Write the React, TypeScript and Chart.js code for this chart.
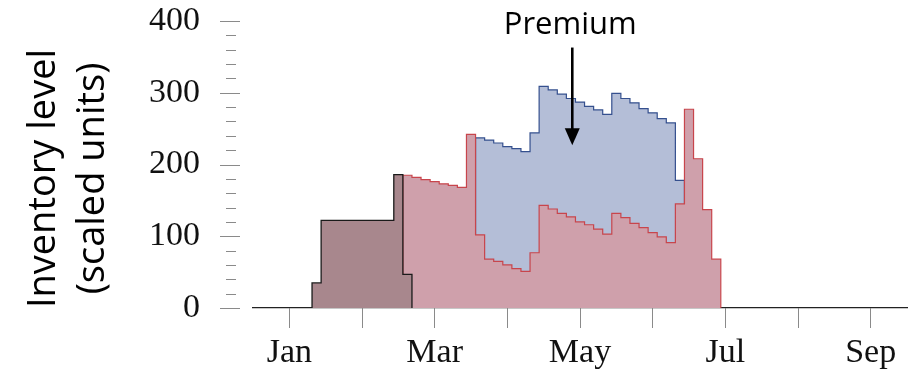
import { useEffect, useRef } from 'react';
import { Chart, registerables } from 'chart.js';

Chart.register(...registerables);

// Time runs in half-week periods; each month spans 8 periods.
const monthLabels = ['Jan', 'Feb', 'Mar', 'Apr', 'May', 'Jun', 'Jul', 'Aug', 'Sep'];
const labelledMonths = ['Jan', 'Mar', 'May', 'Jul', 'Sep'];
const periodsPerMonth = 8;
const janPeriod = -2.5;
const periodMin = -6.5;
const periodMax = 65.5;

const yMajorTicks = [0, 100, 200, 300, 400];
const yMinorStep = 20;

// Inventory levels per period (scaled units)
const earlyStart = 0;
const earlyLevel = [35, 122, 122, 122, 122, 122, 122, 122, 122, 186, 47];

const standardStart = 10;
const standardLevel = [
  185, 182, 179, 176, 173, 171, 168, 242, 102, 68, 65, 60, 55, 51, 77,
  143, 138, 132, 127, 120, 116, 110, 103, 132, 126, 118, 112, 105, 99, 91,
  145, 277, 208, 137, 68,
];

const premiumStart = 18;
const premiumLevel = [
  237, 234, 230, 225, 222, 218, 244, 309, 304, 298, 292, 287, 281, 276, 270,
  299, 292, 286, 278, 272, 264, 258, 178,
];

// Callout pointing into the premium band
const calloutText = 'Premium';
const calloutPeriod = 28.65;
const calloutFrom = 363;
const calloutTo = 227;

const yTitleLines = ['Inventory level', '(scaled units)'];

function stepPoints(start: number, levels: number[]) {
  const pts = [{ x: start, y: 0 }];
  levels.forEach((v, i) => pts.push({ x: start + i, y: v }));
  pts.push({ x: start + levels.length, y: 0 });
  return pts;
}

const decorations = {
  id: 'decorations',
  afterDraw(chart: any) {
    const { ctx, chartArea, scales } = chart;
    const x = scales.x;
    const y = scales.y;
    ctx.save();

    // y-axis tick marks: long at labelled values, short in between
    ctx.strokeStyle = '#8a8a8a';
    ctx.lineWidth = 1;
    const top = yMajorTicks[yMajorTicks.length - 1];
    for (let v = 0; v <= top; v += yMinorStep) {
      const py = Math.round(y.getPixelForValue(v)) + 0.5;
      const major = yMajorTicks.includes(v);
      const x1 = chartArea.left - (major ? 33 : 27);
      const x2 = chartArea.left - (major ? 13 : 17);
      ctx.beginPath();
      ctx.moveTo(x1, py);
      ctx.lineTo(x2, py);
      ctx.stroke();
    }

    // y-axis title, two rotated lines
    ctx.fillStyle = '#000';
    ctx.font = '38px "Open Sans"';
    ctx.textAlign = 'center';
    ctx.textBaseline = 'alphabetic';
    const cy = (chartArea.top + chartArea.bottom) / 2 + 14;
    const baselines = [55, 104];
    yTitleLines.forEach((line, i) => {
      ctx.save();
      ctx.translate(baselines[i], cy);
      ctx.rotate(-Math.PI / 2);
      ctx.fillText(line, 0, 0);
      ctx.restore();
    });

    // callout arrow and label
    const ax = x.getPixelForValue(calloutPeriod);
    const ay1 = y.getPixelForValue(calloutFrom);
    const ay2 = y.getPixelForValue(calloutTo);
    const head = 17;
    ctx.strokeStyle = '#000';
    ctx.lineWidth = 2.6;
    ctx.beginPath();
    ctx.moveTo(ax, ay1);
    ctx.lineTo(ax, ay2 - head + 2);
    ctx.stroke();
    ctx.fillStyle = '#000';
    ctx.beginPath();
    ctx.moveTo(ax, ay2);
    ctx.lineTo(ax - 7.5, ay2 - head);
    ctx.lineTo(ax + 7.5, ay2 - head);
    ctx.closePath();
    ctx.fill();

    ctx.font = '31px "Open Sans"';
    ctx.textAlign = 'center';
    ctx.textBaseline = 'alphabetic';
    ctx.fillText(calloutText, ax - 2, ay1 - 14);

    ctx.restore();
  },
};

export default function App() {
  const canvasRef = useRef<HTMLCanvasElement | null>(null);

  useEffect(() => {
    const canvas = canvasRef.current;
    if (!canvas) return;
    const chart = new Chart(canvas, {
      type: 'line',
      data: {
        datasets: [
          {
            label: 'Early',
            data: stepPoints(earlyStart, earlyLevel),
            stepped: 'before',
            borderColor: '#1a1a1a',
            backgroundColor: '#a8878d',
            borderWidth: 1.3,
            fill: 'origin',
            pointRadius: 0,
          },
          {
            label: 'Standard',
            data: stepPoints(standardStart, standardLevel),
            stepped: 'before',
            borderColor: '#c8454c',
            backgroundColor: '#cfa0ab',
            borderWidth: 1.2,
            fill: 'origin',
            pointRadius: 0,
          },
          {
            label: calloutText,
            data: stepPoints(premiumStart, premiumLevel),
            stepped: 'before',
            borderColor: '#35508e',
            backgroundColor: '#b4bed7',
            borderWidth: 1.2,
            fill: 'origin',
            pointRadius: 0,
          },
        ],
      },
      options: {
        animation: false,
        responsive: false,
        maintainAspectRatio: false,
        layout: { padding: { top: 21, right: 11, bottom: 0, left: 0 } },
        plugins: {
          legend: { display: false },
          tooltip: { enabled: false },
        },
        scales: {
          x: {
            type: 'linear',
            min: periodMin,
            max: periodMax,
            afterFit: (scale: any) => {
              scale.height = 65;
              scale.paddingLeft = 0;
              scale.paddingRight = 0;
            },
            afterBuildTicks: (scale: any) => {
              scale.ticks = monthLabels.map((_, i) => ({ value: janPeriod + i * periodsPerMonth }));
            },
            grid: {
              display: true,
              drawOnChartArea: false,
              drawTicks: true,
              tickLength: 20,
              tickColor: '#8a8a8a',
              tickWidth: 1,
            },
            border: { display: true, color: '#222', width: 1.3 },
            ticks: {
              autoSkip: false,
              maxRotation: 0,
              minRotation: 0,
              padding: 5,
              color: '#111',
              font: { family: '"Liberation Serif"', size: 34 },
              callback: (_v: any, index: number) => {
                const m = monthLabels[index];
                return labelledMonths.includes(m) ? m : '';
              },
            },
          },
          y: {
            type: 'linear',
            min: 0,
            max: 400,
            afterFit: (scale: any) => {
              scale.width = 253;
              scale.paddingTop = 0;
              scale.paddingBottom = 0;
            },
            afterBuildTicks: (scale: any) => {
              scale.ticks = yMajorTicks.map((v) => ({ value: v }));
            },
            grid: { display: false },
            border: { display: false },
            ticks: {
              padding: 45,
              color: '#111',
              font: { family: '"Liberation Serif"', size: 34 },
            },
          },
        },
      },
      plugins: [decorations],
    });
    return () => chart.destroy();
  }, []);

  return (
    <div style={{ position: 'fixed', left: 0, top: 0, width: 918, height: 373, background: '#fff' }}>
      <canvas ref={canvasRef} width={918} height={373} style={{ display: 'block' }} />
    </div>
  );
}
